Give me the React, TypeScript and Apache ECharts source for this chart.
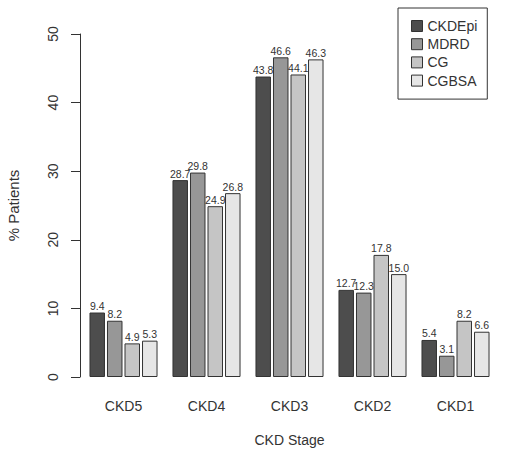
import React, { useEffect, useRef } from "react";
import * as echarts from "echarts";

const stages = ["CKD5", "CKD4", "CKD3", "CKD2", "CKD1"];
const ckdEpi = [9.4, 28.7, 43.8, 12.7, 5.4];
const mdrd = [8.2, 29.8, 46.6, 12.3, 3.1];
const cg = [4.9, 24.9, 44.1, 17.8, 8.2];
const cgbsa = [5.3, 26.8, 46.3, 15.0, 6.6];
const seriesNames = ["CKDEpi", "MDRD", "CG", "CGBSA"];
const seriesColors = ["#4d4d4d", "#979797", "#c5c5c5", "#e6e6e6"];

const FONT = "'Liberation Sans', Arial, sans-serif";
const INK = "#333333";

export default function App() {
  const ref = useRef<HTMLDivElement>(null);

  useEffect(() => {
    document.body.style.margin = "0";
    if (!ref.current) return;
    const chart = echarts.init(ref.current, null, { renderer: "svg" });
    const values = [ckdEpi, mdrd, cg, cgbsa];
    chart.setOption({
      animation: false,
      backgroundColor: "#ffffff",
      textStyle: { fontFamily: FONT, color: INK },
      grid: {
        left: 82,
        right: 8,
        top: 34,
        bottom: 75,
        containLabel: false,
        outerBoundsMode: "none",
      },
      legend: {
        orient: "vertical",
        left: 398,
        top: 8,
        data: seriesNames,
        icon: "rect",
        itemWidth: 11,
        itemHeight: 11,
        itemGap: 4.2,
        itemTextGap: 15,
        itemStyle: { borderColor: "#333", borderWidth: 1 },
        textStyle: { fontFamily: FONT, fontSize: 14, color: INK },
        borderColor: "#333",
        borderWidth: 1,
        borderRadius: 0,
        padding: [11, 10, 11.5, 13],
        backgroundColor: "#fff",
      },
      xAxis: {
        type: "category",
        data: stages,
        axisLine: { show: false },
        axisTick: { show: false },
        axisLabel: { fontFamily: FONT, fontSize: 14, color: INK, margin: 22 },
        name: "CKD Stage",
        nameLocation: "middle",
        nameGap: 56,
        nameTextStyle: { fontFamily: FONT, fontSize: 14, color: INK },
      },
      yAxis: {
        type: "value",
        min: 0,
        max: 50,
        interval: 10,
        offset: 2,
        splitLine: { show: false },
        axisLine: { show: true, lineStyle: { color: INK, width: 1 } },
        axisTick: { show: true, length: 9, lineStyle: { color: INK } },
        axisLabel: {
          fontFamily: FONT,
          fontSize: 14,
          color: INK,
          rotate: 90,
          margin: 20,
          align: "center",
          verticalAlign: "bottom",
        },
        name: "% Patients",
        nameLocation: "middle",
        nameGap: 59,
        nameRotate: 90,
        nameTextStyle: { fontFamily: FONT, fontSize: 15, color: INK },
      },
      series: seriesNames.map((name, i) => ({
        name,
        type: "bar",
        data: values[i],
        barWidth: 15.5,
        barGap: "13%",
        barCategoryGap: "19%",
        itemStyle: { color: seriesColors[i], borderColor: "#333", borderWidth: 1 },
        label: {
          show: true,
          position: "top",
          distance: 1,
          fontFamily: FONT,
          fontSize: 10.5,
          color: INK,
          formatter: (p: any) => Number(p.value).toFixed(1),
        },
      })),
    });
    return () => chart.dispose();
  }, []);

  return <div ref={ref} style={{ width: 505, height: 452 }} />;
}
